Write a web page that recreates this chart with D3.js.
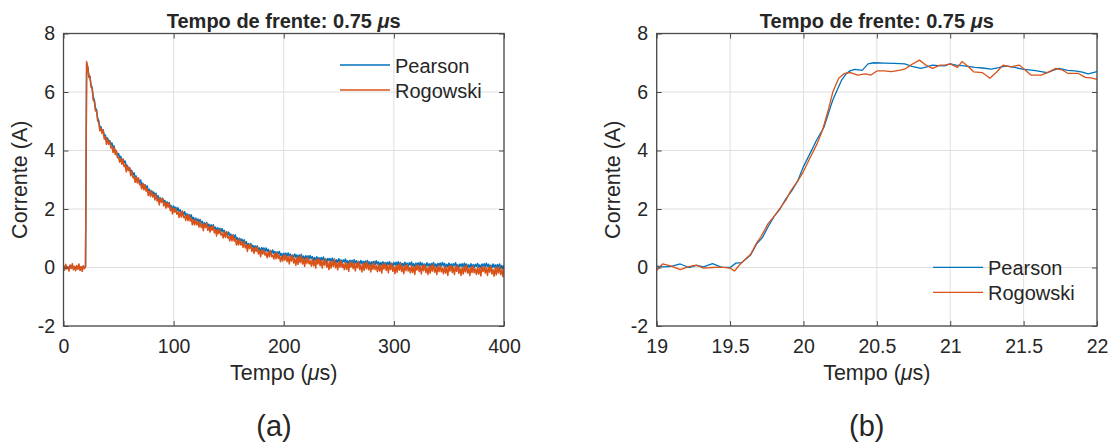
<!DOCTYPE html>
<html><head><meta charset="utf-8">
<script src="https://cdn.jsdelivr.net/npm/d3@7"></script>
<style>
body{margin:0;background:#fff}
svg{display:block}
text{font-family:"Liberation Sans",Arial,Helvetica,sans-serif;fill:#262626}
</style>
</head><body>
<svg id="c" width="1110" height="448"></svg>
<script>
// ---------------- DATA ----------------
const seriesNames = ["Pearson", "Rogowski"];
const fullTime = d3.range(0, 401, 1); // sample instants (µs) of panel (a)
const pearsonFull = [
0.04,-0.05,0.06,-0.02,0.03,-0.06,0.05,-0.01,0.07,-0.04,0.02,-0.06,0.04,-0.03,0.06,-0.05,0.02,-0.07,0.04,-0.02,0.03,
6.98,
6.86,6.58,6.53,6.24,6.15,5.83,5.73,5.44,5.40,5.11,
5.02,4.80,4.81,4.67,4.71,4.51,4.53,4.36,4.43,4.30,
4.34,4.18,4.26,4.11,4.15,3.94,3.96,3.82,3.90,3.75,
3.80,3.64,3.71,3.59,3.64,3.46,3.49,3.33,3.41,3.28,
3.32,3.16,3.24,3.09,3.13,2.97,3.03,2.90,2.99,2.84,
2.88,2.74,2.83,2.72,2.79,2.63,2.67,2.53,2.63,2.52,
2.58,2.44,2.54,2.40,2.45,2.31,2.38,2.27,2.37,2.24,
2.29,2.16,2.25,2.15,2.22,2.06,2.11,1.98,2.10,2.00,
2.06,1.93,2.04,1.91,1.97,1.83,1.91,1.80,1.91,1.78,
1.84,1.71,1.81,1.72,1.80,1.65,1.71,1.58,1.69,1.59,
1.66,1.53,1.64,1.52,1.58,1.45,1.53,1.43,1.54,1.42,
1.48,1.36,1.46,1.38,1.46,1.32,1.38,1.25,1.36,1.27,
1.34,1.22,1.33,1.21,1.27,1.13,1.21,1.10,1.21,1.08,
1.14,1.02,1.12,1.03,1.11,0.96,1.02,0.89,1.00,0.90,
0.97,0.84,0.95,0.82,0.88,0.74,0.82,0.71,0.82,0.70,
0.76,0.63,0.74,0.66,0.74,0.60,0.67,0.54,0.68,0.59,
0.67,0.55,0.67,0.55,0.62,0.49,0.58,0.48,0.60,0.48,
0.55,0.43,0.54,0.46,0.55,0.41,0.48,0.36,0.49,0.41,
0.49,0.38,0.50,0.39,0.46,0.34,0.43,0.34,0.46,0.35,
0.43,0.31,0.43,0.35,0.45,0.31,0.39,0.27,0.40,0.32,
0.40,0.29,0.41,0.30,0.37,0.25,0.34,0.25,0.37,0.26,
0.34,0.22,0.34,0.26,0.36,0.22,0.30,0.18,0.31,0.23,
0.31,0.20,0.32,0.21,0.29,0.17,0.26,0.17,0.30,0.18,
0.26,0.15,0.26,0.19,0.29,0.16,0.23,0.12,0.25,0.16,
0.25,0.14,0.27,0.15,0.23,0.11,0.21,0.12,0.24,0.13,
0.21,0.10,0.22,0.14,0.24,0.11,0.19,0.08,0.20,0.12,
0.21,0.10,0.23,0.11,0.19,0.07,0.17,0.08,0.20,0.09,
0.17,0.06,0.18,0.10,0.20,0.07,0.15,0.04,0.17,0.09,
0.18,0.07,0.20,0.09,0.17,0.05,0.14,0.05,0.18,0.07,
0.15,0.04,0.16,0.09,0.19,0.06,0.13,0.02,0.15,0.07,
0.16,0.05,0.18,0.07,0.15,0.03,0.12,0.03,0.16,0.05,
0.13,0.02,0.14,0.07,0.17,0.04,0.12,0.01,0.14,0.06,
0.15,0.04,0.17,0.06,0.14,0.02,0.11,0.02,0.15,0.04,
0.12,0.01,0.13,0.06,0.16,0.03,0.10,-0.01,0.12,0.04,
0.13,0.02,0.15,0.04,0.12,0.00,0.09,0.00,0.13,0.02,
0.10,-0.01,0.11,0.04,0.14,0.01,0.09,-0.02,0.12,0.04,
0.13,0.02,0.15,0.03,0.11,-0.01,0.08,-0.01,0.12,0.01,
0.09,-0.02,0.10,0.02,0.12,-0.01,0.07,-0.05,0.08
];
const rogowskiFull = [
0.08,-0.09,0.11,-0.05,0.02,-0.12,0.09,-0.03,0.13,-0.08,0.04,-0.11,0.07,-0.06,0.12,-0.10,0.03,-0.13,0.06,-0.04,0.05,
7.04,
6.85,6.50,6.53,6.17,6.12,5.71,5.69,5.35,5.37,5.01,
4.96,4.67,4.77,4.58,4.69,4.39,4.47,4.21,4.38,4.21,
4.31,4.09,4.13,3.93,4.11,3.86,4.00,3.75,3.77,3.60,
3.73,3.53,3.70,3.45,3.52,3.27,3.48,3.31,3.41,3.14,
3.29,3.07,3.11,2.91,3.09,2.89,3.07,2.83,2.86,2.69,
2.86,2.65,2.83,2.61,2.70,2.46,2.60,2.43,2.62,2.41,
2.49,2.31,2.50,2.27,2.36,2.14,2.37,2.23,2.35,2.11,
2.23,2.03,2.21,2.06,2.20,1.94,2.05,1.83,2.03,1.89,
2.01,1.82,1.89,1.71,1.91,1.73,1.93,1.71,1.76,1.61,
1.80,1.60,1.79,1.59,1.69,1.46,1.62,1.46,1.66,1.46,
1.55,1.38,1.58,1.37,1.47,1.26,1.50,1.37,1.50,1.27,
1.40,1.21,1.40,1.27,1.42,1.18,1.30,1.08,1.29,1.16,
1.29,1.11,1.18,1.01,1.21,1.03,1.23,1.01,1.06,0.91,
1.10,0.91,1.10,0.90,1.00,0.77,0.93,0.77,0.97,0.77,
0.86,0.69,0.89,0.67,0.77,0.55,0.79,0.65,0.78,0.55,
0.68,0.48,0.68,0.55,0.70,0.46,0.59,0.37,0.59,0.46,
0.60,0.42,0.50,0.33,0.54,0.37,0.58,0.37,0.43,0.29,
0.49,0.30,0.50,0.31,0.42,0.20,0.37,0.22,0.43,0.25,
0.43,0.20,0.37,0.12,0.39,0.22,0.42,0.15,0.31,0.07,
0.35,0.11,0.37,0.17,0.40,0.12,0.29,0.04,0.32,0.14,
0.35,0.12,0.24,0.05,0.29,0.06,0.25,-0.02,0.29,0.12,
0.30,0.06,0.24,-0.02,0.26,0.08,0.29,0.01,0.18,-0.07,
0.21,-0.02,0.23,0.04,0.27,-0.01,0.16,-0.08,0.20,0.01,
0.23,0.00,0.12,-0.07,0.18,-0.06,0.14,-0.13,0.19,0.01,
0.19,-0.04,0.14,-0.12,0.16,-0.01,0.20,-0.07,0.09,-0.15,
0.13,-0.10,0.16,-0.04,0.19,-0.08,0.09,-0.15,0.12,-0.06,
0.16,-0.07,0.06,-0.14,0.11,-0.12,0.08,-0.19,0.12,-0.05,
0.13,-0.10,0.08,-0.18,0.10,-0.07,0.14,-0.13,0.03,-0.21,
0.07,-0.16,0.10,-0.09,0.14,-0.14,0.03,-0.21,0.07,-0.11,
0.11,-0.12,0.01,-0.18,0.07,-0.17,0.03,-0.24,0.08,-0.09,
0.09,-0.14,0.04,-0.22,0.07,-0.11,0.10,-0.17,0.00,-0.24,
0.04,-0.19,0.07,-0.12,0.11,-0.16,0.00,-0.24,0.04,-0.14,
0.08,-0.15,-0.02,-0.21,0.04,-0.19,0.00,-0.27,0.05,-0.12,
0.06,-0.17,0.01,-0.24,0.04,-0.13,0.07,-0.20,-0.03,-0.27,
0.01,-0.22,0.04,-0.15,0.08,-0.19,-0.03,-0.27,0.01,-0.17,
0.05,-0.18,-0.05,-0.24,0.01,-0.22,-0.02,-0.29,0.03,-0.14,
0.04,-0.19,-0.01,-0.27,0.01,-0.16,0.05,-0.22,-0.06,-0.30,
-0.02,-0.25,0.01,-0.19,0.04,-0.24,-0.07,-0.31,-0.03
];
const pearsonZoomT = [19.00,19.05,19.10,19.16,19.22,19.27,19.32,19.38,19.44,19.50,19.54,19.58,19.64,19.68,19.72,19.76,19.80,19.84,19.88,19.92,19.96,20.00,20.04,20.09,20.14,20.20,20.26,20.29,20.32,20.35,20.40,20.44,20.48,20.55,20.62,20.69,20.74,20.80,20.84,20.88,20.92,20.96,21.00,21.04,21.08,21.17,21.22,21.28,21.33,21.38,21.44,21.49,21.58,21.62,21.66,21.70,21.74,21.80,21.85,21.90,21.94,22.00];
const pearsonZoomI = [0.05,0.02,0.04,0.12,0.00,0.07,0.02,0.13,0.01,0.00,0.15,0.17,0.43,0.80,1.02,1.40,1.75,2.00,2.35,2.62,2.95,3.45,3.85,4.36,4.80,5.73,6.41,6.62,6.73,6.77,6.74,6.96,7.00,6.99,6.98,6.96,6.88,6.81,6.86,6.92,6.90,6.89,6.96,6.92,6.90,6.84,6.82,6.78,6.83,6.89,6.84,6.78,6.73,6.70,6.66,6.74,6.81,6.74,6.72,6.68,6.62,6.70];
const rogowskiZoomT = [19.00,19.04,19.10,19.16,19.22,19.27,19.32,19.38,19.44,19.50,19.53,19.57,19.64,19.68,19.71,19.76,19.80,19.84,19.88,19.91,19.96,20.00,20.04,20.09,20.13,20.17,20.20,20.24,20.28,20.32,20.37,20.42,20.46,20.50,20.55,20.60,20.65,20.69,20.74,20.79,20.84,20.88,20.93,20.97,21.00,21.05,21.08,21.12,21.16,21.22,21.27,21.32,21.36,21.41,21.47,21.51,21.55,21.62,21.67,21.72,21.76,21.80,21.87,21.92,21.96,22.00];
const rogowskiZoomI = [-0.10,0.12,0.05,-0.07,0.03,0.08,-0.02,0.00,0.01,-0.02,-0.12,0.12,0.45,0.83,1.05,1.51,1.75,2.02,2.30,2.59,2.95,3.28,3.70,4.20,4.70,5.40,6.00,6.47,6.64,6.66,6.58,6.62,6.58,6.72,6.72,6.70,6.74,6.78,6.95,7.09,6.90,6.81,6.92,6.93,6.96,6.84,7.04,6.88,6.69,6.66,6.47,6.70,6.92,6.86,6.92,6.75,6.58,6.58,6.68,6.81,6.76,6.64,6.64,6.50,6.48,6.43];

const fullXTicks = [0, 100, 200, 300, 400];
const zoomXTicks = [19, 19.5, 20, 20.5, 21, 21.5, 22];
const yTicks = [-2, 0, 2, 4, 6, 8];
const titleMain = "Tempo de frente: 0.75 ";
const xLabelMain = "Tempo (";
const yLabelText = "Corrente (A)";
const panelLabels = ["(a)", "(b)"];
const seriesColors = ["#0072BD", "#D95319"];

// ---------------- DRAW ----------------
const svg = d3.select("#c");
const TOP = 33.5, BOTTOM = 326;
const y = d3.scaleLinear().domain([-2, 8]).range([BOTTOM, TOP]);

function panel(cfg) {
  const x = d3.scaleLinear().domain(cfg.domain).range([cfg.x0, cfg.x1]);
  const g = svg.append("g");
  const clipId = "clip" + cfg.id;
  svg.append("clipPath").attr("id", clipId).append("rect")
    .attr("x", cfg.x0).attr("y", TOP).attr("width", cfg.x1 - cfg.x0).attr("height", BOTTOM - TOP);

  // grid
  g.append("g").selectAll("line").data(cfg.xticks).join("line")
    .attr("x1", d => x(d)).attr("x2", d => x(d)).attr("y1", TOP).attr("y2", BOTTOM)
    .attr("stroke", "#dfdfdf").attr("stroke-width", 1);
  g.append("g").selectAll("line").data(yTicks).join("line")
    .attr("x1", cfg.x0).attr("x2", cfg.x1).attr("y1", d => y(d)).attr("y2", d => y(d))
    .attr("stroke", "#dfdfdf").attr("stroke-width", 1);

  // data
  const line = d3.line().x(d => x(d[0])).y(d => y(d[1]));
  const dg = g.append("g").attr("clip-path", `url(#${clipId})`);
  cfg.series.forEach((s, i) => {
    dg.append("path").datum(d3.zip(s.t, s.v))
      .attr("d", line).attr("fill", "none")
      .attr("stroke", seriesColors[i]).attr("stroke-width", cfg.lw)
      .attr("stroke-linejoin", "round");
  });

  // axes
  const fmt = d => String(d);
  const bottom = d3.axisBottom(x).tickValues(cfg.xticks).tickFormat(fmt).tickSizeInner(-5).tickSizeOuter(0).tickPadding(13);
  const left = d3.axisLeft(y).tickValues(yTicks).tickFormat(fmt).tickSizeInner(-5).tickSizeOuter(0).tickPadding(8.5);
  const top = d3.axisTop(x).tickValues(cfg.xticks).tickFormat("").tickSizeInner(-5).tickSizeOuter(0);
  const right = d3.axisRight(y).tickValues(yTicks).tickFormat("").tickSizeInner(-5).tickSizeOuter(0);
  const styleAxis = sel => {
    sel.select(".domain").remove();
    sel.selectAll(".tick line").attr("stroke", "#4a4a4a").attr("stroke-width", 1);
    sel.selectAll(".tick text").attr("fill", "#262626").style("font-size", "19.5px")
      .style("font-family", '"Liberation Sans",Arial,sans-serif');
  };
  g.append("g").attr("transform", `translate(0,${BOTTOM})`).call(bottom).call(styleAxis);
  g.append("g").attr("transform", `translate(${cfg.x0},0)`).call(left).call(styleAxis);
  g.append("g").attr("transform", `translate(0,${TOP})`).call(top).call(styleAxis);
  g.append("g").attr("transform", `translate(${cfg.x1},0)`).call(right).call(styleAxis);
  g.append("rect").attr("x", cfg.x0).attr("y", TOP).attr("width", cfg.x1 - cfg.x0).attr("height", BOTTOM - TOP)
    .attr("fill", "none").attr("stroke", "#4a4a4a").attr("stroke-width", 1.3);

  const cx = (cfg.x0 + cfg.x1) / 2;
  // title
  const t = g.append("text").attr("x", cx).attr("y", 28).attr("text-anchor", "middle")
    .style("font-size", "20px").style("font-weight", "bold").attr("fill", "#000");
  t.append("tspan").text(titleMain);
  t.append("tspan").style("font-style", "italic").text("\u03BC");
  t.append("tspan").text("s");

  // x label
  const xl = g.append("text").attr("x", cx).attr("y", 380).attr("text-anchor", "middle").style("font-size", "21.5px");
  xl.append("tspan").text(xLabelMain);
  xl.append("tspan").style("font-style", "italic").text("\u03BC");
  xl.append("tspan").text("s)");

  // y label
  g.append("text").attr("transform", `translate(${cfg.ylx},${(TOP + BOTTOM) / 2}) rotate(-90)`)
    .attr("text-anchor", "middle").style("font-size", "21.5px").text(yLabelText);

  // panel label
  g.append("text").attr("x", cfg.plx).attr("y", 435.5).attr("text-anchor", "middle")
    .style("font-size", "29px").attr("fill", "#000").text(cfg.label);

  // legend
  seriesNames.forEach((n, i) => {
    const ly = cfg.legY + i * 25;
    g.append("line").attr("x1", cfg.legX).attr("x2", cfg.legX + 50).attr("y1", ly).attr("y2", ly)
      .attr("stroke", seriesColors[i]).attr("stroke-width", 1.3);
    g.append("text").attr("x", cfg.legX + 55).attr("y", ly + 7.5).style("font-size", "20px").text(n);
  });
}

panel({
  id: "a", domain: [0, 400], x0: 63.5, x1: 504, xticks: fullXTicks, lw: 1.5,
  series: [{t: fullTime, v: pearsonFull}, {t: fullTime, v: rogowskiFull}],
  ylx: 26.5, plx: 274, label: panelLabels[0], legX: 340, legY: 65
});
panel({
  id: "b", domain: [19, 22], x0: 656.7, x1: 1097, xticks: zoomXTicks, lw: 1.3,
  series: [{t: pearsonZoomT, v: pearsonZoomI}, {t: rogowskiZoomT, v: rogowskiZoomI}],
  ylx: 619.5, plx: 866.7, label: panelLabels[1], legX: 933, legY: 267.3
});
</script>
</body></html>
